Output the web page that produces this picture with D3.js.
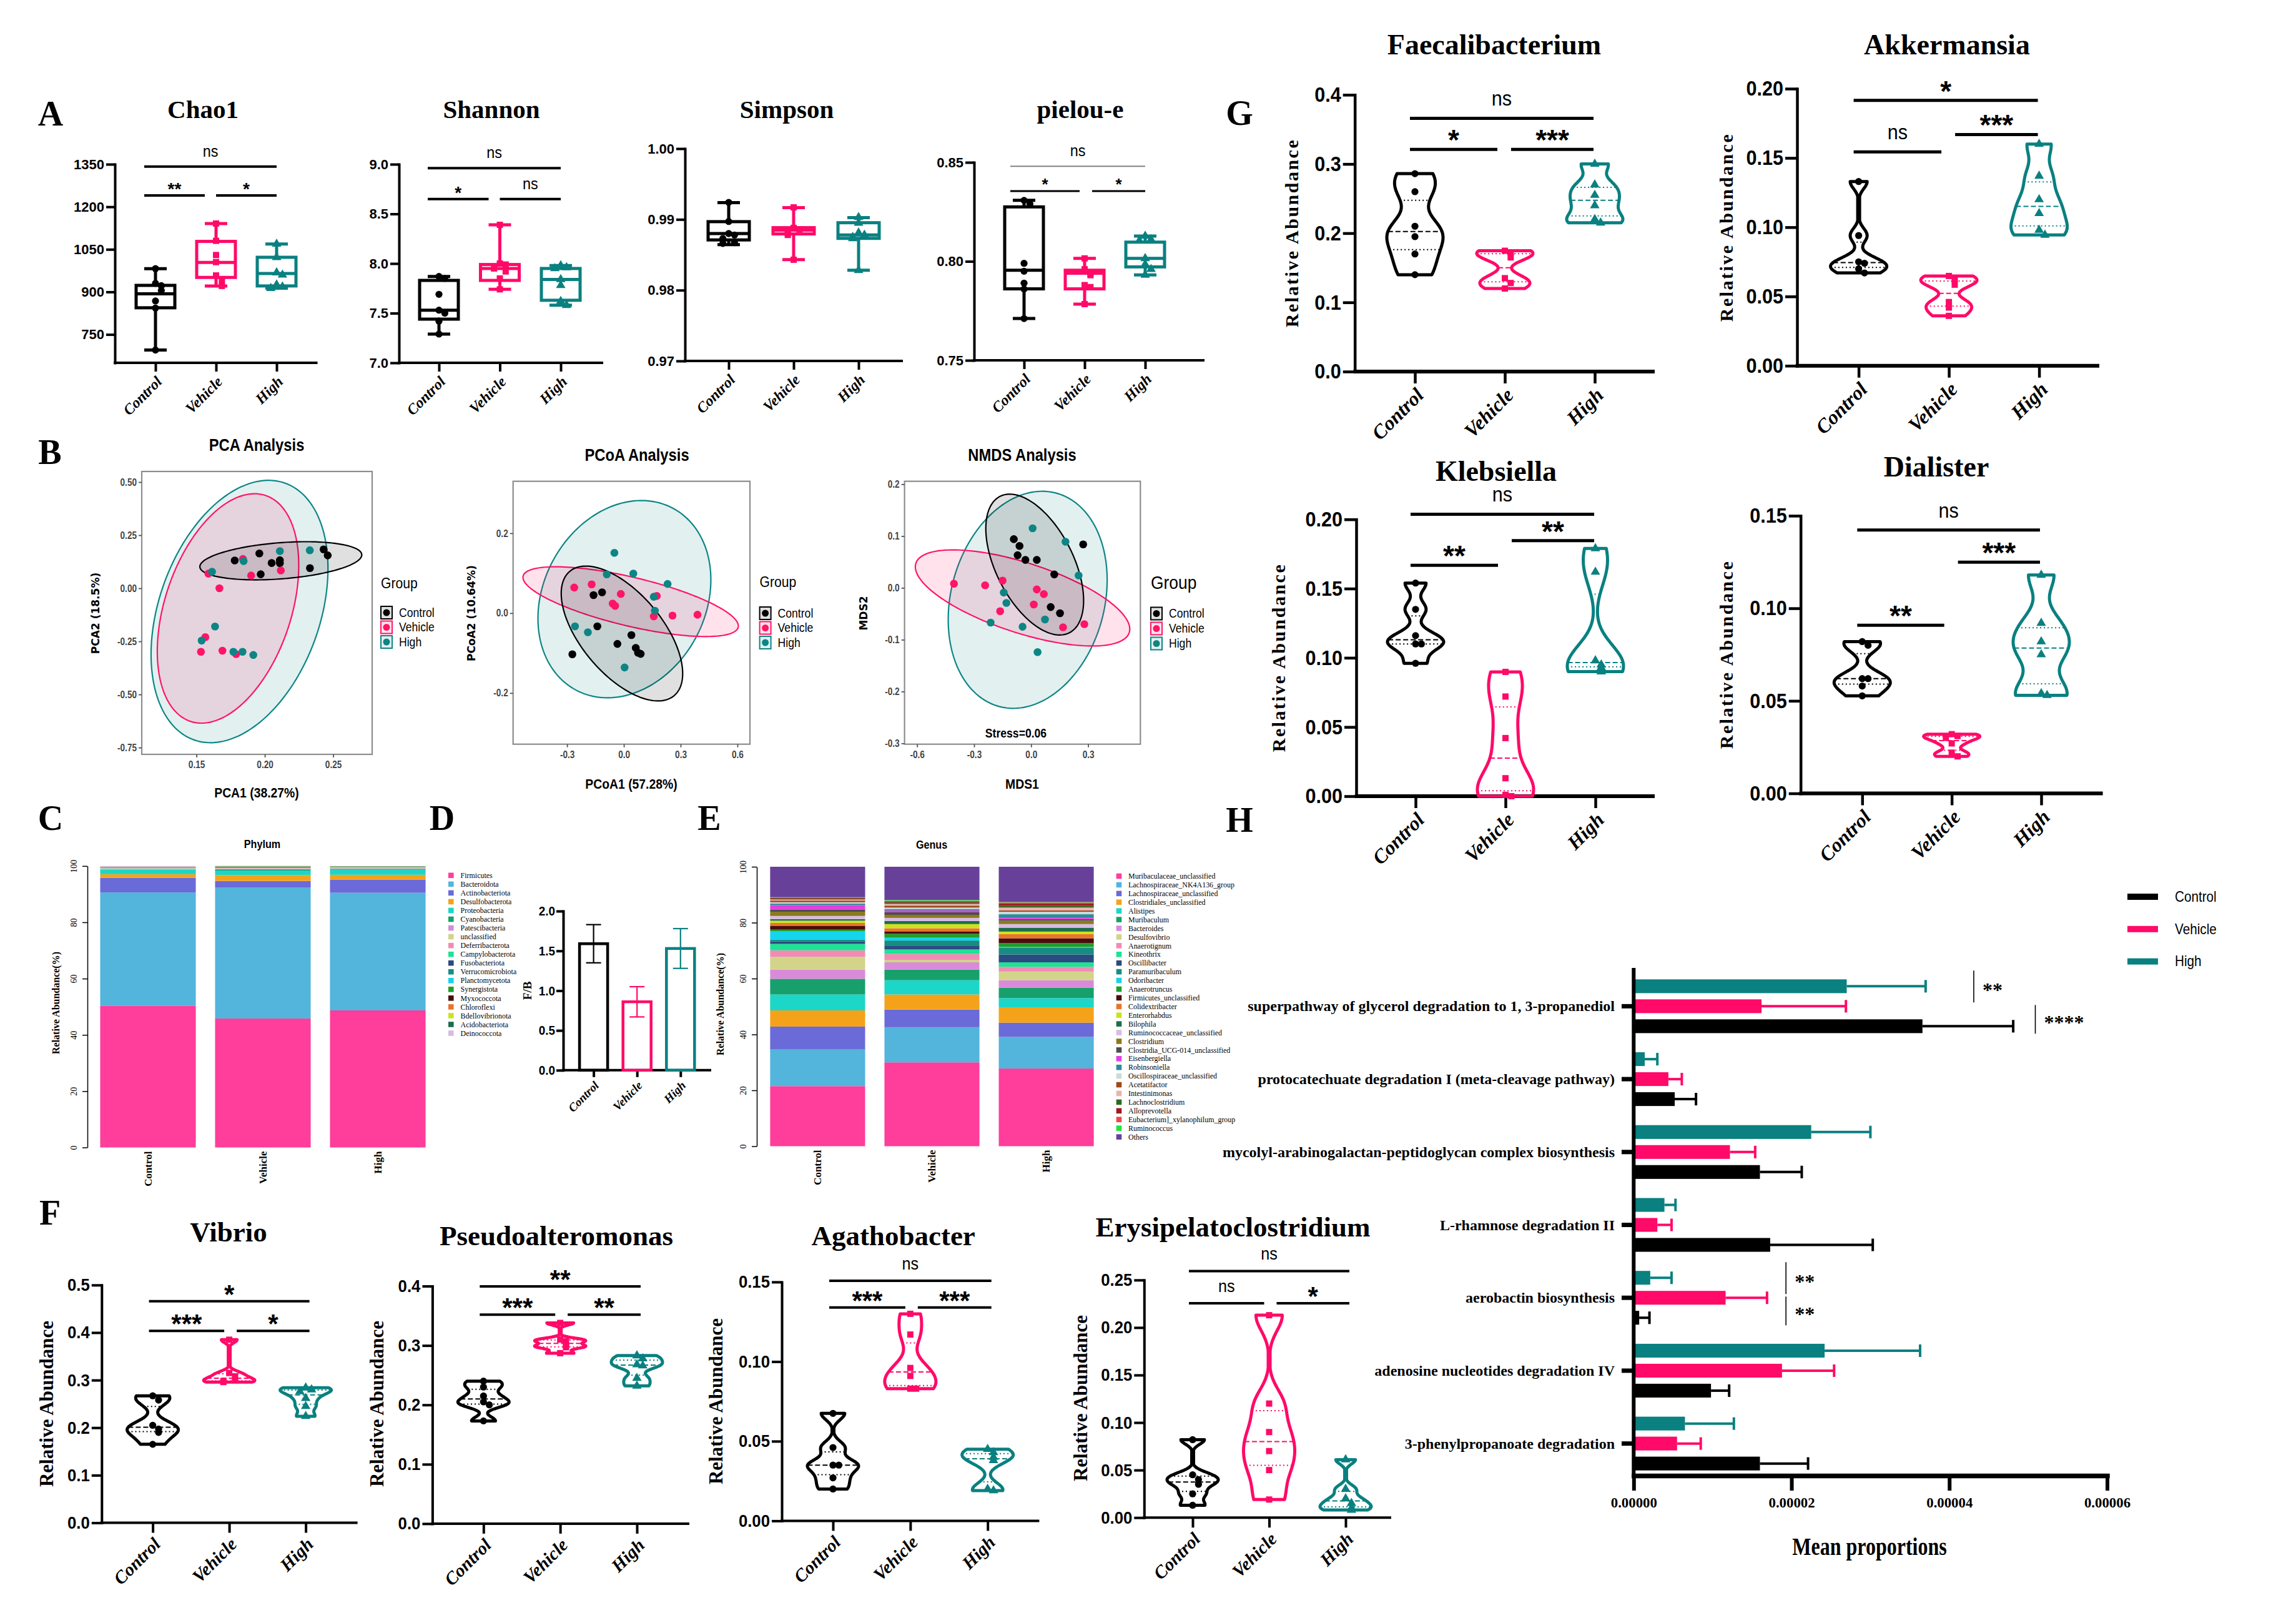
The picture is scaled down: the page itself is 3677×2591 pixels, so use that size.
<!DOCTYPE html>
<html>
<head>
<meta charset="utf-8">
<script src="https://cdn.jsdelivr.net/npm/d3@7"></script>
<style>
html,body{margin:0;padding:0;background:#fff;}
svg{display:block;}
</style>
</head>
<body>
<svg id="fig" width="3677" height="2591" xmlns="http://www.w3.org/2000/svg"></svg>
<script>
// ======================= DATA =======================
const groups = ["Control", "Vehicle", "High"];

// --- A: alpha diversity: raw points and [min, Q1, median, Q3, max]
const chao1Points = [[982, 930, 922, 905, 868, 843, 695], [1141, 1080, 1030, 1005, 958, 940, 921], [1069, 1022, 968, 960, 925, 918, 913]];
const chao1Box = [[695, 844, 893, 923, 982], [921, 951, 1004, 1078, 1141], [913, 921, 965, 1022, 1069]];
const chao1Sig = [[0, 2, "ns", 1342], [0, 1, "**", 1240], [1, 2, "*", 1240]];
const shannonPoints = [[7.87, 7.85, 7.69, 7.53, 7.50, 7.42, 7.29], [8.39, 8.00, 7.99, 7.95, 7.92, 7.85, 7.74], [7.98, 7.96, 7.95, 7.84, 7.78, 7.62, 7.58]];
const shannonBox = [[7.29, 7.44, 7.53, 7.83, 7.87], [7.74, 7.83, 7.95, 7.99, 8.39], [7.58, 7.63, 7.84, 7.95, 7.98]];
const shannonSig = [[0, 2, "ns", 8.96], [0, 1, "*", 8.65], [1, 2, "ns", 8.65]];
const simpsonPoints = [[0.9924, 0.9897, 0.9880, 0.9878, 0.9873, 0.9867, 0.9866], [0.9917, 0.9888, 0.9886, 0.9885, 0.9880, 0.9878, 0.9843], [0.9903, 0.9895, 0.9881, 0.9878, 0.9875, 0.9873, 0.9828]];
const simpsonBox = [[0.98644, 0.9871, 0.98801, 0.98968, 0.99237], [0.98432, 0.98795, 0.98849, 0.98883, 0.99167], [0.98281, 0.98732, 0.9878, 0.98953, 0.99025]];
const simpsonSig = [];
const pielouPoints = [[0.8308, 0.8290, 0.7990, 0.7950, 0.7890, 0.7860, 0.7711], [0.8015, 0.7960, 0.7940, 0.7930, 0.7880, 0.7870, 0.7784], [0.8128, 0.8110, 0.8105, 0.8015, 0.7985, 0.7960, 0.7931]];
const pielouBox = [[0.7711, 0.7861, 0.7955, 0.8275, 0.8308], [0.7784, 0.7861, 0.7940, 0.7955, 0.8015], [0.7931, 0.7972, 0.8015, 0.8097, 0.8128]];
const pielouSig = [[0, 2, "ns", 0.848], [0, 1, "*", 0.8355], [1, 2, "*", 0.8355]];

// --- B: ordinations: points [x, y]; ellipses [cx, cy, majorX, majorY, minorX, minorY]
const pcaPoints = [
  [[0.178, 0.131], [0.196, 0.164], [0.205, 0.119], [0.211, 0.132], [0.211, 0.118], [0.197, 0.066], [0.243, 0.183], [0.246, 0.155], [0.233, 0.095]],
  [[0.184, 0.138], [0.1587, 0.069], [0.190, 0.060], [0.2117, 0.084], [0.1668, 0.000], [0.1565, -0.230], [0.1533, -0.299], [0.169, -0.294], [0.179, -0.310]],
  [[0.211, 0.175], [0.2329, 0.179], [0.1845, 0.128], [0.1614, 0.078], [0.1636, -0.180], [0.1538, -0.246], [0.177, -0.299], [0.1837, -0.299], [0.1916, -0.314]]];
const pcaEllipses = [[0.2117, 0.1295, 0.0592, 0.0292, 0.001, -0.0849], [0.1731, -0.0949, 0.0272, 0.5324, 0.044, -0.091], [0.1815, -0.1094, 0.0329, 0.6054, 0.0557, -0.1225]];
const pcoaPoints = [
  [[-0.160, 0.045], [-0.115, 0.052], [-0.140, -0.033], [-0.272, -0.103], [0.040, -0.055], [-0.034, -0.077], [0.063, -0.087], [0.075, -0.099], [0.089, -0.102]],
  [[-0.262, 0.064], [-0.170, 0.072], [-0.016, 0.048], [-0.059, 0.024], [-0.046, 0.018], [0.174, 0.043], [0.158, -0.008], [0.257, -0.006], [0.389, -0.004]],
  [[-0.050, 0.151], [0.050, 0.099], [-0.090, 0.097], [0.231, 0.073], [0.158, 0.041], [0.164, 0.006], [0.004, -0.136], [-0.258, -0.033], [-0.190, -0.048]]];
const pcoaEllipses = [[-0.010, -0.051, 0.2756, -0.1556, -0.1642, -0.0653], [0.036, 0.0287, 0.568, -0.064, -0.0297, -0.0594], [0.003, 0.035, 0.2555, 0.2277, 0.3785, -0.0953]];
const nmdsPoints = [
  [[-0.091, 0.094], [-0.061, 0.081], [-0.071, 0.063], [-0.030, 0.054], [0.030, 0.054], [0.122, 0.026], [0.274, 0.084], [0.103, -0.037], [0.152, -0.049]],
  [[-0.406, 0.008], [-0.242, 0.005], [-0.150, 0.014], [0.030, -0.003], [0.067, -0.012], [0.014, -0.032], [-0.163, -0.045], [0.168, -0.076], [0.280, -0.070]],
  [[0.008, 0.115], [0.181, 0.089], [0.250, 0.024], [-0.144, -0.009], [-0.130, -0.029], [0.073, -0.061], [-0.213, -0.067], [-0.045, -0.075], [0.034, -0.124]]];
const nmdsEllipses = [[0.019, 0.045, -0.1824, 0.1316, 0.1814, 0.0339], [-0.045, -0.0194, 0.5613, -0.0669, -0.0569, -0.0642], [-0.018, -0.023, 0.1499, 0.2059, 0.3904, -0.0382]];

// --- C: phylum composition (%)
const phylumNames = ["Firmicutes", "Bacteroidota", "Actinobacteriota", "Desulfobacterota", "Proteobacteria", "Cyanobacteria", "Patescibacteria", "unclassified", "Deferribacterota", "Campylobacterota", "Fusobacteriota", "Verrucomicrobiota", "Planctomycetota", "Synergistota", "Myxococcota", "Chloroflexi", "Bdellovibrionota", "Acidobacteriota", "Deinococcota"];
const phylumColors = ["#ff3d9b", "#53b4dc", "#6a6ad8", "#f5a21b", "#1cd6c8", "#17a06b", "#d98bd9", "#d3d38a", "#f08cb4", "#1de394", "#2b4a82", "#168d80", "#16d3ee", "#1f9e2a", "#4a0d0d", "#ea742a", "#cde21f", "#1d6e49", "#d8bce2"];
const phylumControl = [50.3, 40.3, 5.2, 1.3, 1.5, 0.15, 0.2, 0.15, 0.1, 0.1, 0.05, 0.05, 0.05, 0.05, 0.05, 0.05, 0.05, 0.05, 0.3];
const phylumVehicle = [45.8, 46.6, 2.3, 2.1, 1.6, 0.4, 0.2, 0.2, 0.1, 0.1, 0.1, 0.2, 0.05, 0.05, 0.05, 0.05, 0.05, 0.05, 0.0];
const phylumHigh = [48.7, 41.8, 4.6, 1.8, 1.8, 0.3, 0.2, 0.2, 0.1, 0.1, 0.05, 0.1, 0.05, 0.05, 0.05, 0.05, 0.05, 0.0, 0.0];

// --- D: F/B ratio
const fbMean = [1.59, 0.86, 1.53];
const fbSD = [0.24, 0.19, 0.25];

// --- E: genus composition (%)
const genusNames = ["Muribaculaceae_unclassified", "Lachnospiraceae_NK4A136_group", "Lachnospiraceae_unclassified", "Clostridiales_unclassified", "Alistipes", "Muribaculum", "Bacteroides", "Desulfovibrio", "Anaerotignum", "Kineothrix", "Oscillibacter", "Paramuribaculum", "Odoribacter", "Anaerotruncus", "Firmicutes_unclassified", "Colidextribacter", "Enterorhabdus", "Bilophila", "Ruminococcaceae_unclassified", "Clostridium", "Clostridia_UCG-014_unclassified", "Eisenbergiella", "Robinsoniella", "Oscillospiraceae_unclassified", "Acetatifactor", "Intestinimonas", "Lachnoclostridium", "Alloprevotella", "Eubacterium]_xylanophilum_group", "Ruminococcus", "Others"];
const genusColors = ["#ff3d9b", "#53b4dc", "#6a6ad8", "#f5a21b", "#1cd6c8", "#17a06b", "#d98bd9", "#d3d38a", "#f08cb4", "#1de394", "#2b4a82", "#168d80", "#16d3ee", "#1f9e2a", "#4a0d0d", "#ea742a", "#cde21f", "#1d6e49", "#d8bce2", "#8a7a1c", "#4d4d4d", "#e23fe2", "#2e8a9c", "#c9dcd7", "#9c4a1a", "#eab3b3", "#2e6a1e", "#a2181c", "#f24545", "#1ee43e", "#674199"];
const genusControl = [21.5, 13.1, 8.2, 5.8, 5.7, 5.6, 3.3, 4.6, 2.3, 2.3, 0.9, 0.6, 3.0, 0.6, 1.4, 1.0, 0.8, 0.6, 1.1, 1.5, 0.7, 1.7, 0.5, 0.5, 0.6, 0.4, 0.3, 0.2, 0.2, 0.1, 10.9];
const genusVehicle = [30.0, 12.6, 6.3, 5.4, 5.1, 3.8, 2.6, 0.9, 2.1, 1.6, 1.4, 1.8, 1.0, 1.4, 0.9, 1.1, 1.5, 1.1, 1.1, 1.1, 0.9, 0.7, 0.5, 0.5, 0.7, 0.6, 0.5, 0.3, 0.3, 0.3, 11.9];
const genusHigh = [27.8, 11.3, 5.1, 5.5, 3.3, 3.7, 2.7, 3.1, 1.7, 1.6, 2.8, 2.5, 0.2, 1.4, 1.7, 1.5, 0.9, 1.4, 1.3, 1.2, 0.6, 0.6, 1.1, 0.9, 0.5, 1.0, 0.6, 0.8, 0.4, 0.2, 12.6];

// --- F / G: relative abundance per sample (violins) and comparisons [from, to, label, y]
const vibrioPoints = [[0.267, 0.258, 0.205, 0.197, 0.190, 0.165], [0.385, 0.315, 0.308, 0.300, 0.298, 0.296], [0.284, 0.280, 0.276, 0.262, 0.245, 0.224]];
const vibrioSig = [[0, 2, "*", 0.466], [0, 1, "***", 0.4035], [1, 2, "*", 0.4035]];
const pseudoPoints = [[0.240, 0.230, 0.215, 0.205, 0.200, 0.173], [0.338, 0.310, 0.307, 0.300, 0.297, 0.287], [0.283, 0.278, 0.268, 0.266, 0.245, 0.232]];
const pseudoSig = [[0, 2, "**", 0.3995], [0, 1, "***", 0.352], [1, 2, "**", 0.352]];
const agathoPoints = [[0.0675, 0.046, 0.035, 0.035, 0.027, 0.020], [0.130, 0.117, 0.096, 0.091, 0.083, 0.083], [0.045, 0.043, 0.040, 0.038, 0.020, 0.019]];
const agathoSig = [[0, 2, "ns", 0.1507], [0, 1, "***", 0.134], [1, 2, "***", 0.134]];
const erysipPoints = [[0.082, 0.045, 0.040, 0.035, 0.025, 0.013], [0.213, 0.120, 0.090, 0.070, 0.050, 0.019], [0.061, 0.030, 0.020, 0.015, 0.010, 0.008]];
const erysipSig = [[0, 2, "ns", 0.2594], [0, 1, "ns", 0.2256], [1, 2, "*", 0.2256]];
const faecalPoints = [[0.286, 0.260, 0.210, 0.195, 0.170, 0.140], [0.1746, 0.172, 0.165, 0.135, 0.128, 0.120], [0.300, 0.270, 0.255, 0.240, 0.220, 0.215]];
const faecalSig = [[0, 2, "ns", 0.366], [0, 1, "*", 0.321], [1, 2, "***", 0.321]];
const akkPoints = [[0.133, 0.094, 0.075, 0.074, 0.070, 0.067], [0.0648, 0.062, 0.0585, 0.046, 0.042, 0.036], [0.160, 0.137, 0.120, 0.110, 0.098, 0.0944]];
const akkSig = [[0, 2, "*", 0.1916], [1, 2, "***", 0.1669], [0, 1, "ns", 0.1544]];
const klebPoints = [[0.154, 0.135, 0.116, 0.110, 0.110, 0.096], [0.0898, 0.072, 0.042, 0.013, 0.001, 0.0], [0.179, 0.162, 0.098, 0.095, 0.093, 0.090]];
const klebSig = [[0, 2, "ns", 0.2037], [1, 2, "**", 0.1846], [0, 1, "**", 0.1668]];
const dialPoints = [[0.082, 0.080, 0.062, 0.062, 0.058, 0.0527], [0.032, 0.031, 0.030, 0.027, 0.022, 0.020], [0.118, 0.092, 0.082, 0.075, 0.054, 0.053]];
const dialSig = [[0, 2, "ns", 0.1423], [1, 2, "***", 0.1249], [0, 1, "**", 0.0908]];

// --- H: pathways (mean proportions and error)
const pathways = ["superpathway of glycerol degradation to 1, 3-propanediol", "protocatechuate degradation I (meta-cleavage pathway)", "mycolyl-arabinogalactan-peptidoglycan complex biosynthesis", "L-rhamnose degradation II", "aerobactin biosynthesis", "adenosine nucleotides degradation IV", "3-phenylpropanoate degradation"];
const hControl = [3.66e-5, 0.52e-5, 1.60e-5, 1.73e-5, 0.07e-5, 0.98e-5, 1.60e-5];
const hControlErr = [1.15e-5, 0.27e-5, 0.53e-5, 1.30e-5, 0.13e-5, 0.23e-5, 0.61e-5];
const hVehicle = [1.62e-5, 0.44e-5, 1.22e-5, 0.30e-5, 1.165e-5, 1.88e-5, 0.55e-5];
const hVehicleErr = [1.07e-5, 0.17e-5, 0.32e-5, 0.18e-5, 0.525e-5, 0.66e-5, 0.30e-5];
const hHigh = [2.70e-5, 0.14e-5, 2.25e-5, 0.39e-5, 0.21e-5, 2.42e-5, 0.65e-5];
const hHighErr = [1.00e-5, 0.16e-5, 0.75e-5, 0.14e-5, 0.27e-5, 1.21e-5, 0.62e-5];
const hTicks = [0, 2e-5, 4e-5, 6e-5];
const hSig = [[0, "High", "Vehicle", "**", 4.31e-5], [0, "Vehicle", "Control", "****", 5.09e-5], [4, "High", "Vehicle", "**", 1.93e-5], [4, "Vehicle", "Control", "**", 1.93e-5]];

// ======================= DRAWING =======================
const svg = d3.select("#fig");
svg.append("rect").attr("width", 3677).attr("height", 2591).attr("fill", "#fff");
const SERIF = "'Liberation Serif','Times New Roman',serif";
const SANS = "'Liberation Sans',Arial,sans-serif";
const WIDE = "'DejaVu Sans',Verdana,sans-serif";
const GC = ["#000000", "#ff0a68", "#0a8080"];
const OC = ["#000000", "#ff1466", "#0d8585"];
const SYM = [d3.symbolCircle, d3.symbolSquare, d3.symbolTriangle];
const fmt = f => v => d3.format(f)(v).replace("\u2212", "-");

function txt(g, x, y, s, o = {}) {
  const t = g.append("text")
    .attr("transform", `translate(${x},${y}) rotate(${o.rot || 0}) scale(${o.sx || 1},1)`)
    .attr("font-family", o.fam || SANS)
    .attr("font-size", o.fs || 20)
    .attr("font-weight", o.fw || "normal")
    .attr("font-style", o.it ? "italic" : "normal")
    .attr("text-anchor", o.anchor || "middle")
    .attr("dominant-baseline", o.base || "central")
    .attr("fill", o.fill || "#000")
    .text(s);
  if (o.ls) t.attr("letter-spacing", o.ls);
  return t;
}

function styleAxis(ax, o) {
  ax.attr("font-family", o.fam || SANS).attr("font-size", o.fs).attr("font-weight", o.fw || "bold");
  ax.select(".domain").attr("stroke", o.color || "#000").attr("stroke-width", o.lw).attr("stroke-linecap", "square");
  ax.selectAll(".tick line").attr("stroke", o.color || "#000").attr("stroke-width", o.lw);
  const sx = o.sx || 1;
  ax.selectAll(".tick text").attr("fill", o.tcolor || "#000").each(function () {
    const t = d3.select(this);
    const xx = +t.attr("x") || 0;
    t.attr("x", xx / sx).attr("transform", `scale(${sx},1)`);
  });
}

function swarm(vals, y, r) {
  const placed = [];
  return vals.map(v => {
    const py = y(v);
    const k = placed.filter(q => Math.abs(q - py) < 1.6 * r).length;
    placed.push(py);
    const off = k === 0 ? 0 : (k % 2 ? 1 : -1) * Math.ceil(k / 2) * 1.7 * r;
    return { py, off };
  });
}

function gpFrame(o) {
  const g = svg.append("g");
  const y = d3.scaleLinear().domain(o.dom).range([o.yB, o.yT]);
  const x = d3.scalePoint().domain(groups).range([o.c1, o.c3]);
  const ya = g.append("g").attr("transform", `translate(${o.ax},0)`)
    .call(d3.axisLeft(y).tickValues(o.ticks).tickFormat(fmt(o.fmt)).tickSize(o.tk).tickSizeOuter(0).tickPadding(o.pad));
  styleAxis(ya, { lw: o.lw, fs: o.tfs, sx: o.tsx || 1, fw: "bold" });
  g.append("line").attr("x1", o.ax - o.lw / 2).attr("x2", o.xEnd).attr("y1", o.yB).attr("y2", o.yB)
    .attr("stroke", "#000").attr("stroke-width", o.xlw || o.lw);
  const xa = g.append("g").attr("transform", `translate(0,${o.yB})`)
    .call(d3.axisBottom(x).tickSize(o.tk).tickFormat(""));
  xa.select(".domain").remove();
  xa.selectAll(".tick line").attr("stroke", "#000").attr("stroke-width", o.lw);
  groups.forEach(gn => txt(g, x(gn) + o.lx, o.yB + o.tk + o.ly, gn,
    { fam: SERIF, fw: "bold", it: true, fs: o.lfs, rot: -45, anchor: "end" }));
  txt(g, o.tx, o.ty, o.title, { fam: SERIF, fw: "bold", fs: o.titfs });
  if (o.ytx !== undefined) txt(g, o.ytx, o.yty, "Relative Abundance", { fam: SERIF, fw: "bold", fs: o.ytfs, rot: -90, ls: o.ytls || 0 });
  return { g, x, y };
}

function drawSig(g, x, y, list, s) {
  list.forEach(([a, b, lab, v]) => {
    const yy = y(v);
    const x1 = x(groups[a]) + (a === 1 ? s.gapR : -s.ov);
    const x2 = x(groups[b]) + (b === 1 ? -s.gapL : s.end);
    const star = lab.indexOf("*") >= 0;
    const grey = !star && s.nsGrey;
    g.append("line").attr("x1", x1).attr("x2", x2).attr("y1", yy).attr("y2", yy)
      .attr("stroke", grey ? "#808080" : "#000").attr("stroke-width", grey ? 2 : s.lw);
    if (star) txt(g, (x1 + x2) / 2, yy - s.starDy, lab, { fs: s.starFs, fw: "bold", base: "auto" });
    else txt(g, (x1 + x2) / 2, yy - s.nsDy, lab, { fs: s.nsFs, sx: s.nsSx || 0.9, base: "auto" });
  });
}

function boxChart(o, pts, box, sig) {
  const { g, x, y } = gpFrame(o);
  groups.forEach((gn, i) => {
    const cx = x(gn), c = GC[i], [mn, q1, md, q3, mx] = box[i];
    const L = (x1, y1, x2, y2) => g.append("line").attr("x1", x1).attr("y1", y1).attr("x2", x2).attr("y2", y2)
      .attr("stroke", c).attr("stroke-width", o.blw);
    L(cx, y(q3), cx, y(mx)); L(cx, y(q1), cx, y(mn));
    L(cx - o.capW / 2, y(mx), cx + o.capW / 2, y(mx)); L(cx - o.capW / 2, y(mn), cx + o.capW / 2, y(mn));
    g.append("rect").attr("x", cx - o.boxW / 2).attr("y", y(q3)).attr("width", o.boxW).attr("height", y(q1) - y(q3))
      .attr("fill", "none").attr("stroke", c).attr("stroke-width", o.blw);
    L(cx - o.boxW / 2, y(md), cx + o.boxW / 2, y(md));
    swarm(pts[i], y, o.r).forEach(p => g.append("path").attr("d", d3.symbol().type(SYM[i]).size(o.r * o.r * 3.3))
      .attr("transform", `translate(${cx + p.off},${p.py})`).attr("fill", c));
  });
  drawSig(g, x, y, sig, o.sig);
}

function violinChart(o, pts, sig) {
  const { g, x, y } = gpFrame(o);
  groups.forEach((gn, i) => {
    const cx = x(gn), c = GC[i];
    const s = pts[i].slice().sort(d3.ascending);
    const lo = s[0], hi = s[s.length - 1];
    const sd = d3.deviation(s), iqr = d3.quantile(s, 0.75) - d3.quantile(s, 0.25);
    let h = 0.6 * 0.9 * Math.min(sd, iqr > 0 ? iqr / 1.34 : sd) * Math.pow(s.length, -0.2);
    h = Math.max(h, (hi - lo) * 0.07);
    const N = 90;
    const ys = d3.range(N + 1).map(k => lo + (hi - lo) * k / N);
    const dens = ys.map(v => d3.sum(s, p => Math.exp(-0.5 * ((v - p) / h) ** 2)));
    const m = d3.max(dens);
    const wAt = v => {
      const k = Math.max(0, Math.min(N, (v - lo) / (hi - lo) * N));
      const k0 = Math.floor(k), k1 = Math.min(N, k0 + 1), f = k - k0;
      return o.W * (dens[k0] * (1 - f) + dens[k1] * f) / m;
    };
    const data = ys.map((v, k) => [v, Math.max(1.5, o.W * dens[k] / m)]);
    const area = d3.area().y(d => y(d[0])).x0(d => cx - d[1]).x1(d => cx + d[1]).curve(d3.curveMonotoneY);
    [[0.25, "2,4"], [0.5, "8,4"], [0.75, "2,4"]].forEach(([p, dash]) => {
      const q = d3.quantile(s, p), w = wAt(q);
      g.append("line").attr("x1", cx - w).attr("x2", cx + w).attr("y1", y(q)).attr("y2", y(q))
        .attr("stroke", c).attr("stroke-width", 2).attr("stroke-dasharray", dash);
    });
    g.append("path").attr("d", area(data)).attr("fill", "none").attr("stroke", c)
      .attr("stroke-width", o.vlw).attr("stroke-linejoin", "round");
    swarm(s.slice().reverse(), y, o.r).forEach(p => g.append("path").attr("d", d3.symbol().type(SYM[i]).size(o.r * o.r * 3.3))
      .attr("transform", `translate(${cx + p.off},${p.py})`).attr("fill", c));
  });
  drawSig(g, x, y, sig, o.sig);
}

function ordChart(o, pts, ell) {
  const g = svg.append("g");
  const x = d3.scaleLinear().domain(o.xd).range([o.L, o.R]);
  const y = d3.scaleLinear().domain(o.yd).range([o.B, o.T]);
  g.append("clipPath").attr("id", o.id).append("rect").attr("x", o.L).attr("y", o.T).attr("width", o.R - o.L).attr("height", o.B - o.T);
  const pg = g.append("g").attr("clip-path", `url(#${o.id})`);
  const line = d3.line().x(d => x(d[0])).y(d => y(d[1])).curve(d3.curveLinearClosed);
  [2, 1, 0].forEach(i => {
    const e = ell[i];
    const P = d3.range(180).map(k => {
      const t = 2 * Math.PI * k / 180;
      return [e[0] + e[2] * Math.cos(t) + e[4] * Math.sin(t), e[1] + e[3] * Math.cos(t) + e[5] * Math.sin(t)];
    });
    pg.append("path").attr("d", line(P)).attr("fill", OC[i]).attr("fill-opacity", 0.12)
      .attr("stroke", OC[i]).attr("stroke-width", 2.2);
  });
  pts.forEach((arr, i) => arr.forEach(p => pg.append("circle").attr("cx", x(p[0])).attr("cy", y(p[1])).attr("r", 6.3).attr("fill", OC[i])));
  g.append("rect").attr("x", o.L).attr("y", o.T).attr("width", o.R - o.L).attr("height", o.B - o.T)
    .attr("fill", "none").attr("stroke", "#8c8c8c").attr("stroke-width", 2.2);
  const ya = g.append("g").attr("transform", `translate(${o.L},0)`)
    .call(d3.axisLeft(y).tickValues(o.yt).tickFormat(fmt(o.yf)).tickSize(5).tickPadding(3));
  ya.select(".domain").remove();
  styleAxis(ya, { lw: 1.8, fs: 16, sx: 0.85, fw: "bold", color: "#555", tcolor: "#444" });
  const xa = g.append("g").attr("transform", `translate(0,${o.B})`)
    .call(d3.axisBottom(x).tickValues(o.xt).tickFormat(fmt(o.xf)).tickSize(5).tickPadding(6));
  xa.select(".domain").remove();
  styleAxis(xa, { lw: 1.8, fs: 16, sx: 0.85, fw: "bold", color: "#555", tcolor: "#444" });
  txt(g, o.tX, o.tY, o.title, { fs: 27, fw: "bold", sx: 0.88 });
  txt(g, o.xtX, o.xtY, o.xTitle, { fs: 22, fw: "bold", sx: 0.88 });
  txt(g, o.ytX, o.ytY, o.yTitle, { fam: WIDE, fs: 17, fw: "bold", rot: -90 });
  if (o.stress) txt(g, o.stress[0], o.stress[1], "Stress=0.06", { fs: 20, fw: "bold", sx: 0.88 });
  txt(g, o.lgX, o.lgTY, "Group", { fs: o.lgTfs, sx: 0.88, anchor: "start" });
  groups.forEach((gn, i) => {
    const cy = o.lgY[i];
    g.append("rect").attr("x", o.lgX).attr("y", cy - 10).attr("width", 18).attr("height", 20)
      .attr("fill", OC[i]).attr("fill-opacity", 0.12).attr("stroke", OC[i]).attr("stroke-width", 2);
    g.append("circle").attr("cx", o.lgX + 9).attr("cy", cy).attr("r", 5.5).attr("fill", OC[i]);
    txt(g, o.lgX + 29, cy, gn, { fs: o.lgfs, sx: 0.88, anchor: "start" });
  });
}

function stackChart(o, names, colors, vals) {
  const g = svg.append("g");
  const y = d3.scaleLinear().domain([0, 1]).range([o.B, o.T]);
  const x = d3.scaleBand().domain(groups).range(o.xr).paddingInner(o.pi).paddingOuter(o.po);
  const rows = groups.map((gn, gi) => { const r = { group: gn }; names.forEach((n, k) => r[n] = vals[gi][k]); return r; });
  const series = d3.stack().keys(names).offset(d3.stackOffsetExpand)(rows);
  series.forEach((s, k) => s.forEach(d => g.append("rect").attr("x", x(d.data.group)).attr("width", x.bandwidth())
    .attr("y", y(d[1])).attr("height", Math.max(0, y(d[0]) - y(d[1]))).attr("fill", colors[k])));
  const ya = g.append("g").attr("transform", `translate(${o.L},0)`)
    .call(d3.axisLeft(y).tickValues([0, 0.2, 0.4, 0.6, 0.8, 1]).tickFormat(v => String(Math.round(v * 100))).tickSize(8).tickSizeOuter(0));
  ya.attr("font-family", SERIF).attr("font-size", 14);
  ya.select(".domain").attr("stroke-width", 1.5);
  ya.selectAll(".tick line").attr("stroke-width", 1.5);
  ya.selectAll(".tick text").attr("x", null).attr("dy", null).attr("text-anchor", "middle").attr("transform", "translate(-17,0) rotate(-90)");
  groups.forEach(gn => txt(g, x(gn) + x.bandwidth() / 2, o.B + 6, gn, { fam: SERIF, fw: "bold", fs: 17, rot: -90, anchor: "end" }));
  txt(g, o.tX, o.tY, o.title, { fs: 19, fw: "bold", sx: 0.85 });
  txt(g, o.ytX, o.ytY, "Relative Abundance(%)", { fam: SERIF, fw: "bold", fs: 16, rot: -90 });
  names.forEach((n, k) => {
    const cy = o.lgY0 + k * o.lgStep;
    g.append("rect").attr("x", o.lgX).attr("y", cy - 4.3).attr("width", 8.6).attr("height", 8.6).attr("fill", colors[k]);
    txt(g, o.lgTX, cy, n, { fam: SERIF, fs: 13, anchor: "start", sx: 0.92 });
  });
}

// ---------- panel letters ----------
[["A", 81, 182], ["B", 80, 724], ["C", 81, 1310], ["D", 708, 1310], ["E", 1136, 1310], ["F", 80, 1942], ["G", 1985, 181], ["H", 1985, 1313]]
  .forEach(([l, x, y]) => txt(svg, x, y, l, { fam: SERIF, fw: "bold", fs: 56 }));

// ---------- A ----------
const sigA = { ov: 18, gapL: 18, gapR: 0, end: 0, lw: 4, starFs: 28, nsFs: 26, starDy: 1, nsDy: 16 };
const baseA = { yB: 581, yT: 263, tk: 14, pad: 3, lw: 4, tfs: 22, lx: 6, ly: 12, lfs: 24, ty: 175, titfs: 41, blw: 5, boxW: 62, capW: 36, r: 5.5 };
boxChart(Object.assign({}, baseA, { ax: 184, xEnd: 508.5, c1: 249, c3: 443, dom: [650, 1350], ticks: [750, 900, 1050, 1200, 1350], fmt: "d", title: "Chao1", tx: 325, sig: sigA }), chao1Points, chao1Box, chao1Sig);
boxChart(Object.assign({}, baseA, { ax: 639, xEnd: 966, c1: 703, c3: 898, dom: [7, 9], ticks: [7, 7.5, 8, 8.5, 9], fmt: ".1f", title: "Shannon", tx: 787, sig: sigA }), shannonPoints, shannonBox, shannonSig);
boxChart(Object.assign({}, baseA, { ax: 1097, yT: 238, yB: 578, xEnd: 1446, c1: 1167, c3: 1375, dom: [0.97, 1.0], ticks: [0.97, 0.98, 0.99, 1.0], fmt: ".2f", title: "Simpson", tx: 1260, boxW: 66, sig: sigA }), simpsonPoints, simpsonBox, simpsonSig);
boxChart(Object.assign({}, baseA, { ax: 1560, yT: 260, yB: 577, xEnd: 1929, c1: 1640, c3: 1834, dom: [0.75, 0.85], ticks: [0.75, 0.80, 0.85], fmt: ".2f", title: "pielou-e", tx: 1730, sig: Object.assign({}, sigA, { ov: 22, gapL: 8, gapR: 12, end: 0, lw: 3, nsGrey: true, starFs: 26, starDy: 2, nsDy: 16 }) }), pielouPoints, pielouBox, pielouSig);

// ---------- B ----------
ordChart({ id: "cpca", L: 227, R: 596, T: 755, B: 1208, xd: [0.11, 0.2785], yd: [-0.782, 0.55], xt: [0.15, 0.20, 0.25], xf: ".2f", yt: [-0.75, -0.5, -0.25, 0, 0.25, 0.5], yf: ".2f",
  title: "PCA Analysis", tX: 411, tY: 712, xTitle: "PCA1 (38.27%)", xtX: 411, xtY: 1269, yTitle: "PCA2 (18.5%)", ytX: 153, ytY: 982,
  lgX: 610, lgTY: 934, lgTfs: 24, lgfs: 20, lgY: [981, 1004.5, 1028] }, pcaPoints, pcaEllipses);
ordChart({ id: "cpcoa", L: 821.7, R: 1201, T: 770.7, B: 1191.7, xd: [-0.585, 0.666], yd: [-0.328, 0.33], xt: [-0.3, 0, 0.3, 0.6], xf: ".1f", yt: [-0.2, 0, 0.2], yf: ".1f",
  title: "PCoA Analysis", tX: 1020, tY: 728, xTitle: "PCoA1 (57.28%)", xtX: 1011, xtY: 1255, yTitle: "PCoA2 (10.64%)", ytX: 755, ytY: 982,
  lgX: 1216.6, lgTY: 932, lgTfs: 24, lgfs: 20, lgY: [982, 1005.5, 1029] }, pcoaPoints, pcoaEllipses);
ordChart({ id: "cnmds", L: 1448.6, R: 1826.3, T: 770.7, B: 1191.7, xd: [-0.666, 0.575], yd: [-0.3016, 0.2057], xt: [-0.6, -0.3, 0, 0.3], xf: ".1f", yt: [-0.3, -0.2, -0.1, 0, 0.1, 0.2], yf: ".1f",
  title: "NMDS Analysis", tX: 1637, tY: 728, xTitle: "MDS1", xtX: 1637, xtY: 1255, yTitle: "MDS2", ytX: 1383, ytY: 982, stress: [1627, 1174],
  lgX: 1843, lgTY: 932, lgTfs: 30, lgfs: 20, lgY: [982.5, 1006.5, 1030.5] }, nmdsPoints, nmdsEllipses);

// ---------- C ----------
stackChart({ L: 140, T: 1386.8, B: 1837.5, xr: [145, 697], pi: 0.168, po: 0.084, title: "Phylum", tX: 420, tY: 1352, ytX: 89, ytY: 1606,
  lgX: 718, lgTX: 737.6, lgY0: 1401.8, lgStep: 14.04 }, phylumNames, phylumColors, [phylumControl, phylumVehicle, phylumHigh]);

// ---------- D ----------
(function () {
  const g = svg.append("g");
  const y = d3.scaleLinear().domain([0, 2]).range([1713.8, 1459]);
  const x = d3.scalePoint().domain(groups).range([950.6, 1089.8]);
  const ya = g.append("g").attr("transform", "translate(902,0)")
    .call(d3.axisLeft(y).tickValues([0, 0.5, 1, 1.5, 2]).tickFormat(fmt(".1f")).tickSize(11).tickSizeOuter(0).tickPadding(2));
  styleAxis(ya, { lw: 4, fs: 21, fw: "bold", sx: 0.9 });
  g.append("line").attr("x1", 900).attr("x2", 1139).attr("y1", 1713.8).attr("y2", 1713.8).attr("stroke", "#000").attr("stroke-width", 4);
  const xa = g.append("g").attr("transform", "translate(0,1713.8)").call(d3.axisBottom(x).tickSize(11).tickFormat(""));
  xa.select(".domain").remove();
  xa.selectAll(".tick line").attr("stroke", "#000").attr("stroke-width", 4);
  groups.forEach((gn, i) => {
    const cx = x(gn), c = GC[i];
    g.append("rect").attr("x", cx - 22.5).attr("y", y(fbMean[i])).attr("width", 45).attr("height", y(0) - y(fbMean[i]))
      .attr("fill", "none").attr("stroke", c).attr("stroke-width", 4.5);
    const e1 = y(fbMean[i] + fbSD[i]), e0 = y(fbMean[i] - fbSD[i]);
    g.append("line").attr("x1", cx).attr("x2", cx).attr("y1", e1).attr("y2", e0).attr("stroke", c).attr("stroke-width", 2.2);
    [e1, e0].forEach(ey => g.append("line").attr("x1", cx - 12).attr("x2", cx + 12).attr("y1", ey).attr("y2", ey).attr("stroke", c).attr("stroke-width", 2.2));
    txt(g, cx + 5, 1713.8 + 11 + 10, gn, { fam: SERIF, fw: "bold", it: true, fs: 19, rot: -45, anchor: "end" });
  });
  txt(g, 844.4, 1586.4, "F/B", { fam: SERIF, fw: "bold", fs: 19, rot: -90 });
})();

// ---------- E ----------
stackChart({ L: 1212, T: 1388, B: 1835.5, xr: [1220, 1765], pi: 0.169, po: 0.073, title: "Genus", tX: 1492, tY: 1353, ytX: 1153, ytY: 1608,
  lgX: 1787.7, lgTX: 1807, lgY0: 1403, lgStep: 13.92 }, genusNames, genusColors, [genusControl, genusVehicle, genusHigh]);

// ---------- F ----------
const sigF = { ov: 6, gapL: 8, gapR: 12, end: 6, lw: 4, starFs: 42, nsFs: 28, starDy: -3, nsDy: 18 };
const baseF = { tk: 16, pad: 3, lw: 4, tfs: 28, tsx: 0.92, lx: 7, ly: 13, lfs: 29, titfs: 45, vlw: 5, W: 41, r: 5.5, ytfs: 31 };
violinChart(Object.assign({}, baseF, { ax: 162.8, yT: 2057.8, yB: 2438.5, xEnd: 572.6, c1: 244.6, c3: 489.6, dom: [0, 0.5], ticks: [0, 0.1, 0.2, 0.3, 0.4, 0.5], fmt: ".1f", title: "Vibrio", tx: 366, ty: 1973, ytx: 74, yty: 2248, sig: sigF }), vibrioPoints, vibrioSig);
violinChart(Object.assign({}, baseF, { ax: 692.4, yT: 2059.5, yB: 2439.9, xEnd: 1103.9, c1: 774.3, c3: 1020, dom: [0, 0.4], ticks: [0, 0.1, 0.2, 0.3, 0.4], fmt: ".1f", title: "Pseudoalteromonas", tx: 891, ty: 1979, ytx: 603, yty: 2248, sig: sigF }), pseudoPoints, pseudoSig);
violinChart(Object.assign({}, baseF, { ax: 1252, yT: 2052.9, yB: 2435.4, xEnd: 1664.4, c1: 1334, c3: 1581.7, dom: [0, 0.15], ticks: [0, 0.05, 0.1, 0.15], fmt: ".2f", title: "Agathobacter", tx: 1430.6, ty: 1979, ytx: 1146, yty: 2244, sig: sigF }), agathoPoints, agathoSig);
violinChart(Object.assign({}, baseF, { ax: 1832.3, yT: 2049.8, yB: 2430.2, xEnd: 2228, c1: 1910, c3: 2155, dom: [0, 0.25], ticks: [0, 0.05, 0.1, 0.15, 0.2, 0.25], fmt: ".2f", title: "Erysipelatoclostridium", tx: 1974.5, ty: 1965, ytx: 1730, yty: 2239, sig: sigF }), erysipPoints, erysipSig);

// ---------- G ----------
const sigG = { ov: 8, gapL: 12, gapR: 10, end: -2, lw: 5, starFs: 46, nsFs: 34, starDy: -1, nsDy: 20 };
const baseG = { tk: 19, pad: 3, lw: 4.5, xlw: 6, tfs: 34, tsx: 0.9, lx: 8, ly: 13, lfs: 32, titfs: 46, vlw: 5, W: 45, r: 5.5, ytfs: 30, ytls: 2.5 };
violinChart(Object.assign({}, baseG, { ax: 2169.7, yT: 151.8, yB: 595, xEnd: 2650, c1: 2266, c3: 2554, dom: [0, 0.4], ticks: [0, 0.1, 0.2, 0.3, 0.4], fmt: ".1f", title: "Faecalibacterium", tx: 2393, ty: 71, ytx: 2068, yty: 373, sig: sigG }), faecalPoints, faecalSig);
violinChart(Object.assign({}, baseG, { ax: 2878, yT: 142, yB: 585.7, xEnd: 3362, c1: 2976.6, c3: 3265.6, dom: [0, 0.2], ticks: [0, 0.05, 0.1, 0.15, 0.2], fmt: ".2f", title: "Akkermansia", tx: 3118, ty: 71, ytx: 2764, yty: 364, sig: sigG }), akkPoints, akkSig);
violinChart(Object.assign({}, baseG, { ax: 2172, yT: 831.7, yB: 1275, xEnd: 2650, c1: 2267, c3: 2555, dom: [0, 0.2], ticks: [0, 0.05, 0.1, 0.15, 0.2], fmt: ".2f", title: "Klebsiella", tx: 2396, ty: 754, ytx: 2047, yty: 1053, sig: sigG }), klebPoints, klebSig);
violinChart(Object.assign({}, baseG, { ax: 2883.7, yT: 825.9, yB: 1270.5, xEnd: 3367.6, c1: 2982.3, c3: 3269, dom: [0, 0.15], ticks: [0, 0.05, 0.1, 0.15], fmt: ".2f", title: "Dialister", tx: 3101, ty: 747, ytx: 2764, yty: 1048, sig: sigG }), dialPoints, dialSig);

// ---------- H ----------
(function () {
  const g = svg.append("g");
  const x = d3.scaleLinear().domain([0, 6e-5]).range([2616.3, 3374.5]);
  const yc = d3.scaleBand().domain(pathways).range([1553, 2370]);
  const order = ["High", "Vehicle", "Control"];
  const yi = d3.scaleBand().domain(order).range([-48, 48]).paddingInner(0.31).paddingOuter(0.155);
  const means = { Control: hControl, Vehicle: hVehicle, High: hHigh };
  const errs = { Control: hControlErr, Vehicle: hVehicleErr, High: hHighErr };
  const cyOf = k => yc(pathways[k]) + yc.bandwidth() / 2;
  pathways.forEach((p, k) => {
    const cy = cyOf(k);
    order.forEach(gn => {
      const c = GC[groups.indexOf(gn)];
      const by = cy + yi(gn), bh = yi.bandwidth(), m = means[gn][k], e = errs[gn][k];
      g.append("line").attr("x1", x(m)).attr("x2", x(m + e)).attr("y1", by + bh / 2).attr("y2", by + bh / 2).attr("stroke", c).attr("stroke-width", 4);
      g.append("line").attr("x1", x(m + e)).attr("x2", x(m + e)).attr("y1", by + 1).attr("y2", by + bh - 1).attr("stroke", c).attr("stroke-width", 4);
      g.append("rect").attr("x", x(0)).attr("y", by).attr("width", x(m) - x(0)).attr("height", bh).attr("fill", c);
    });
    g.append("line").attr("x1", 2597).attr("x2", 2616).attr("y1", cy).attr("y2", cy).attr("stroke", "#000").attr("stroke-width", 7);
    txt(g, 2586, cy, p, { fam: SERIF, fw: "bold", fs: 24, anchor: "end" });
  });
  g.append("line").attr("x1", 2616.3).attr("x2", 2616.3).attr("y1", 1550).attr("y2", 2366).attr("stroke", "#000").attr("stroke-width", 6);
  const xa = g.append("g").attr("transform", "translate(0,2363)")
    .call(d3.axisBottom(x).tickValues(hTicks).tickFormat(fmt(".5f")).tickSize(24).tickSizeOuter(0).tickPadding(10));
  styleAxis(xa, { lw: 6, fs: 24, fw: "bold", fam: SERIF, sx: 0.95 });
  xa.select(".domain").attr("stroke-width", 7.5);
  txt(g, 2994, 2477, "Mean proportions", { fam: SERIF, fw: "bold", fs: 40, sx: 0.8 });
  hSig.forEach(([k, ga, gb, lab, v]) => {
    const cy = cyOf(k);
    const ca = cy + yi(ga) + yi.bandwidth() / 2, cb = cy + yi(gb) + yi.bandwidth() / 2;
    const y1 = ga === "High" ? ca - 25 : ca - 2, y2 = ga === "High" ? cb - 6 : cb + 12;
    g.append("line").attr("x1", x(v)).attr("x2", x(v)).attr("y1", y1).attr("y2", y2).attr("stroke", "#000").attr("stroke-width", 1.6);
    txt(g, x(v) + 14, (y1 + y2) / 2 + 16, lab, { fam: SERIF, fw: "bold", fs: 32, anchor: "start", base: "auto" });
  });
  groups.forEach((gn, i) => {
    const ly = 1436 + i * 51.8;
    g.append("rect").attr("x", 3407).attr("y", ly - 5).attr("width", 49).attr("height", 10).attr("fill", GC[i]);
    txt(g, 3483, ly, gn, { fs: 23, anchor: "start", sx: 0.9 });
  });
})();
</script>
</body>
</html>
